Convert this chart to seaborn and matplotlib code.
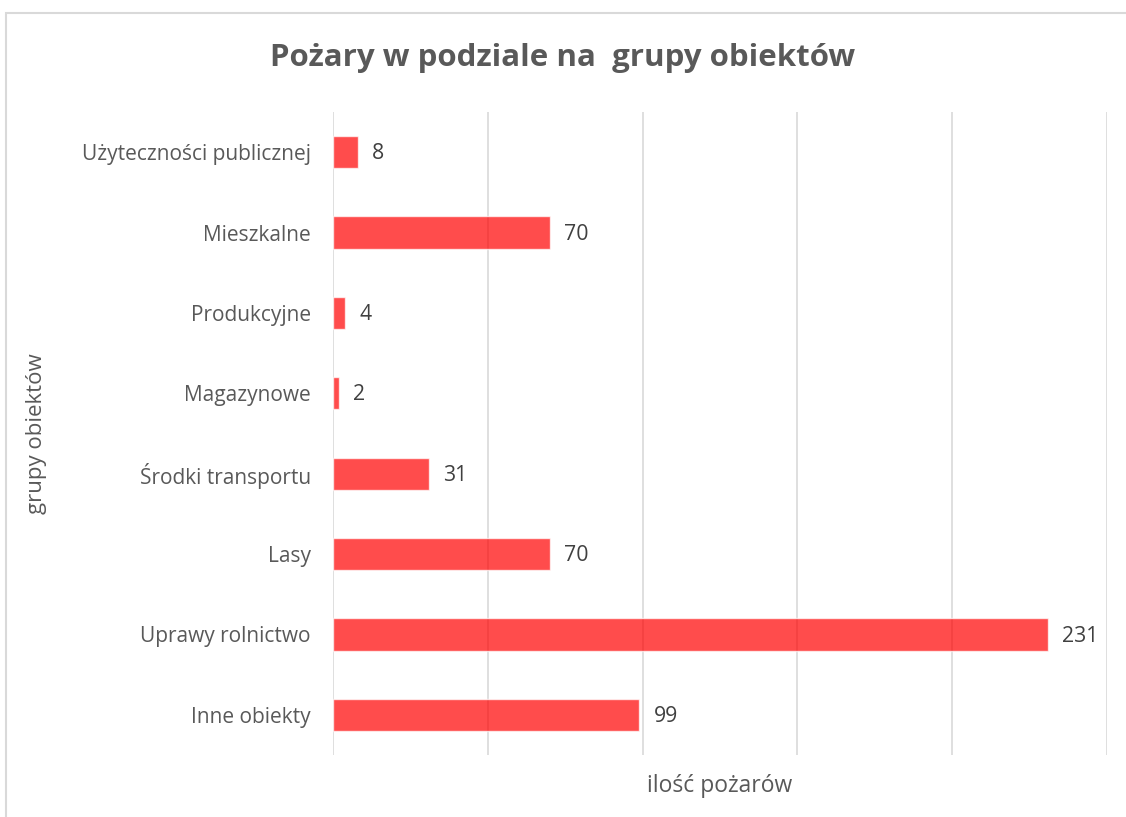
import matplotlib
matplotlib.use("Agg")
import matplotlib.pyplot as plt
import pandas as pd
import seaborn as sns
from matplotlib.patches import Rectangle

# dane z wykresu
kategorie = [
    "Użyteczności publicznej",
    "Mieszkalne",
    "Produkcyjne",
    "Magazynowe",
    "Środki transportu",
    "Lasy",
    "Uprawy rolnictwo",
    "Inne obiekty",
]
ilosc = [8, 70, 4, 2, 31, 70, 231, 99]
x_ticks = [0, 50, 100, 150, 200, 250]

df = pd.DataFrame({"grupa": kategorie, "ilosc": ilosc})

sns.set_style("white")
plt.rcParams["font.family"] = ["Open Sans", "DejaVu Sans"]

SZARY = "#595959"

fig = plt.figure(figsize=(11.26, 8.17), dpi=100)
ax = fig.add_axes([0.2957, 0.0759, 0.6874, 0.787])

sns.barplot(data=df, y="grupa", x="ilosc", orient="h", order=kategorie,
            color="#FF0000", alpha=0.7, width=0.4, saturation=1, ax=ax,
            zorder=3)

ax.set_xlim(0, 250)
ax.set_ylim(len(kategorie) - 0.5, -0.5)
ax.set_xticks(x_ticks)
ax.set_xticklabels([])
ax.grid(axis="x", color="#D9D9D9", linewidth=1.2, zorder=0)
ax.set_axisbelow(True)
for s in ax.spines.values():
    s.set_visible(False)
ax.tick_params(axis="both", length=0)
ax.tick_params(axis="y", labelsize=15, labelcolor=SZARY, pad=16)

# etykiety wartości
for i, v in enumerate(ilosc):
    ax.text(v + 4.6, i + 0.02, str(v), va="center", ha="left", fontsize=15.3, color="#404040")

ax.set_xlabel("ilość pożarów", fontsize=16.5, color=SZARY, labelpad=10)
ax.set_ylabel("grupy obiektów", fontsize=16, color=SZARY, labelpad=0)
ax.yaxis.set_label_coords(-0.37, 0.5)

fig.text(0.5, 0.929, "Pożary w podziale na  grupy obiektów", ha="center", va="center",
         fontsize=22.5, fontweight="bold", color=SZARY)

# ramka wykresu (tylko góra i lewa strona widoczne)
fig.patches.append(Rectangle((6 / 1126, -0.1), 1.2, 1.1 - 13 / 817, transform=fig.transFigure,
                             fill=False, edgecolor="#D9D9D9", linewidth=1.5))

fig.savefig("out.png", dpi=100)
